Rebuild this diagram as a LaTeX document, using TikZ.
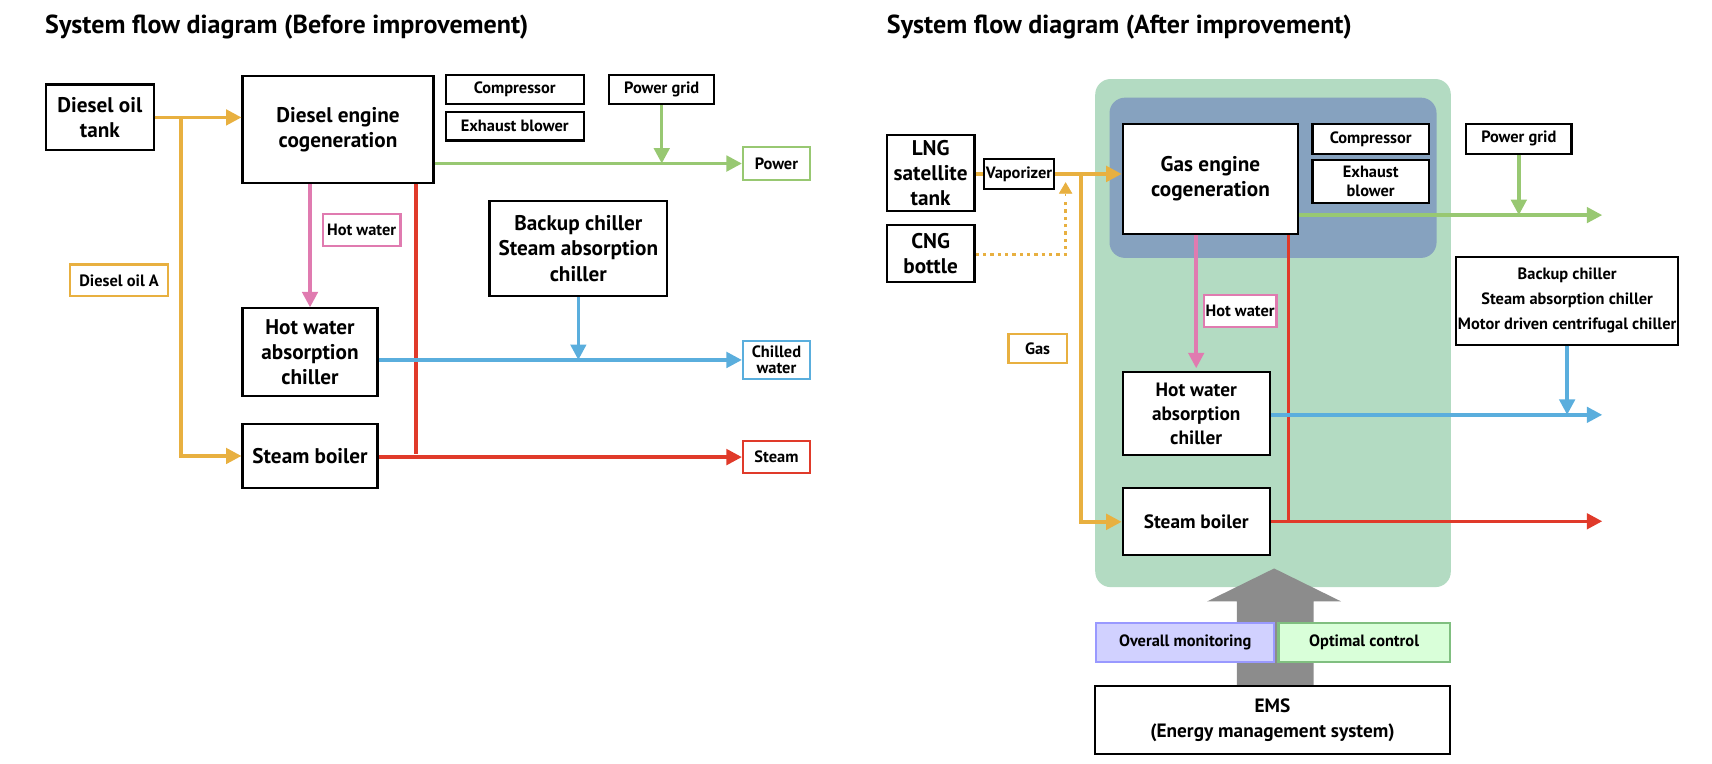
\documentclass[tikz,border=0pt]{standalone}
\usepackage{fontspec}
\setmainfont{PT Sans}
\usetikzlibrary{arrows.meta}
\definecolor{oil}{HTML}{E8B040}
\definecolor{pow}{HTML}{98C872}
\definecolor{hot}{HTML}{E07BB0}
\definecolor{stm}{HTML}{E03A2A}
\definecolor{cld}{HTML}{5AAEDD}
\definecolor{plant}{HTML}{B3DBC2}
\definecolor{core}{HTML}{86A2BF}
\tikzset{
  box/.style={draw,line width=1.1pt,fill=white,align=center,inner sep=1pt,
    font=\fontsize{11}{13}\selectfont\bfseries},
  tag/.style={box,font=\fontsize{8.5}{10}\selectfont\bfseries},
  flow/.style={line width=1.8pt,-{Triangle[length=8pt,width=8pt]}},
  line/.style={line width=1.8pt},
  title/.style={anchor=west,font=\fontsize{13.5}{16}\selectfont\bfseries}
}
\begin{document}
\begin{tikzpicture}[x=0.02cm,y=-0.02cm]
  \useasboundingbox (0,0) rectangle (1560,696);

  % backgrounds
  \fill[plant,rounded corners=8pt] (998,72) rectangle (1322,535);
  \fill[core,rounded corners=8pt] (1011,89) rectangle (1309,235);
  \fill[black!45] (1127,625) -- (1127,548) -- (1100,548) -- (1161,518)
    -- (1222,548) -- (1197,548) -- (1197,625) -- cycle;

  \path
  (35,25)      node[title](titleL) {System flow diagram (Before improvement)}
  (802,25)     node[title](titleR) {System flow diagram (After improvement)}

  % before
  (91,107)     node[box,minimum width=1.96cm,minimum height=1.2cm](tankL) {Diesel oil\\tank}
  (308,118)    node[box,minimum width=3.48cm,minimum height=1.96cm](engL) {Diesel engine\\cogeneration}
  (469,81.5)   node[tag,minimum width=2.52cm,minimum height=0.54cm](compL) {Compressor}
  (469,115)    node[tag,minimum width=2.52cm,minimum height=0.52cm](exhL) {Exhaust blower}
  (603,81.5)   node[tag,minimum width=1.92cm,minimum height=0.54cm](gridL) {Power grid}
  (707.5,149)  node[tag,draw=pow,minimum width=1.22cm,minimum height=0.6cm](powerL) {Power}
  (329.5,209.5) node[tag,draw=hot,minimum width=1.42cm,minimum height=0.58cm](hotL) {Hot water}
  (527,226.5)  node[box,minimum width=3.24cm,minimum height=1.74cm](backL) {Backup chiller\\Steam absorption\\chiller}
  (108.5,255.5) node[tag,draw=oil,minimum width=1.78cm,minimum height=0.58cm](oilA) {Diesel oil A}
  (282.5,321)  node[box,minimum width=2.46cm,minimum height=1.6cm](absL) {Hot water\\absorption\\chiller}
  (707.5,328)  node[tag,draw=cld,minimum width=1.22cm,minimum height=0.68cm,font=\fontsize{8.5}{8.5}\selectfont\bfseries](chillL) {Chilled\\water}
  (282.5,415.5) node[box,minimum width=2.46cm,minimum height=1.18cm](boilL) {Steam boiler}
  (707.5,416.5) node[tag,draw=stm,minimum width=1.22cm,minimum height=0.58cm](steamL) {Steam}

  (165,107)    coordinate(jL)
  (379,414)    coordinate(rL)

  % after
  (848,157.5)  node[box,minimum width=1.6cm,minimum height=1.38cm](lng) {LNG\\satellite\\tank}
  (928.5,158.5) node[tag,minimum width=1.26cm,minimum height=0.54cm](vap) {Vaporizer}
  (848,231)    node[box,minimum width=1.6cm,minimum height=1.04cm](cng) {CNG\\bottle}
  (1103,163)   node[box,minimum width=3.2cm,minimum height=2cm](engR) {Gas engine\\cogeneration}
  (1249,126.5) node[tag,minimum width=2.12cm,minimum height=0.54cm](compR) {Compressor}
  (1249,165.5) node[tag,minimum width=2.12cm,minimum height=0.78cm](exhR) {Exhaust\\blower}
  (1384,126.5) node[tag,minimum width=1.92cm,minimum height=0.54cm](gridR) {Power grid}
  (1428,274)   node[tag,minimum width=3.8cm,minimum height=1.6cm,font=\fontsize{8.5}{13}\selectfont\bfseries](backR) {Backup chiller\\Steam absorption chiller\\Motor driven centrifugal chiller}
  (1130,283.5) node[tag,draw=hot,minimum width=1.32cm,minimum height=0.58cm](hotR) {Hot water}
  (1090,377)   node[box,minimum width=2.68cm,minimum height=1.52cm,font=\fontsize{10}{12.5}\selectfont\bfseries](absR) {Hot water\\absorption\\chiller}
  (1090,475.5) node[box,minimum width=2.68cm,minimum height=1.22cm,font=\fontsize{10}{12}\selectfont\bfseries](boilR) {Steam boiler}
  (945.5,317.5) node[tag,draw=oil,minimum width=1.06cm,minimum height=0.54cm](gas) {Gas}
  (1080,585.5) node[tag,fill=blue!18,draw=blue!40,minimum width=3.24cm,minimum height=0.7cm](mon) {Overall monitoring}
  (1243,585.5) node[tag,fill=green!15,draw=green!50!black!50,minimum width=3.12cm,minimum height=0.7cm](opt) {Optimal control}
  (1159.5,656) node[box,minimum width=6.46cm,minimum height=1.24cm,font=\fontsize{10}{13}\selectfont\bfseries](ems) {EMS\\(Energy management system)}

  (985,158)    coordinate(jR)
  (971,232)    coordinate(dR)
  (1174,475)   coordinate(rR)
  (1460,196)   coordinate(powR)
  (1460,378)   coordinate(chillR)
  (1460,475)   coordinate(steamR)
  ;

  % before: fuel
  \draw[flow,oil] (tankL.east) -- (engL.west |- tankL.east);
  \draw[flow,oil] (jL) |- (boilL.west);
  % before: power
  \draw[flow,pow] (engL.east |- powerL) -- (powerL.west);
  \draw[flow,pow] (gridL.south) -- (gridL.south |- powerL.west);
  % before: heat
  \draw[flow,hot] (absL.north |- engL.south) -- (absL.north);
  \draw[line,stm] (engL.south -| rL) -- (rL);
  \draw[flow,stm] (boilL.east |- steamL) -- (steamL.west);
  \draw[flow,cld] (absL.east |- chillL) -- (chillL.west);
  \draw[flow,cld] (backL.south) -- (backL.south |- chillL.west);

  % after: fuel
  \draw[line,oil] (lng.east |- vap) -- (vap.west);
  \draw[flow,oil] (vap.east) -- (engR.west |- vap.east);
  \draw[flow,oil] (jR) |- (boilR.west);
  \draw[oil,line width=1.8pt,dotted] (cng.east |- dR) -- (dR) -- ([yshift=-0.45cm]dR |- vap.east);
  \draw[oil,-{Triangle[length=6pt,width=7pt]}] ([yshift=-0.4cm]dR |- vap.east) -- ([yshift=-0.15cm]dR |- vap.east);
  % after: power
  \draw[flow,pow] (engR.east |- powR) -- (powR);
  \draw[flow,pow] (gridR.south) -- (gridR.south |- powR);
  % after: heat
  \draw[flow,hot] (absR.north |- engR.south) -- ([yshift=0.05cm]absR.north);
  \draw[line,stm] (engR.south -| rR) -- (rR);
  \draw[flow,stm] (boilR.east |- steamR) -- (steamR);
  \draw[flow,cld] (absR.east |- chillR) -- (chillR);
  \draw[flow,cld] (backR.south) -- (backR.south |- chillR);
\end{tikzpicture}
\end{document}
